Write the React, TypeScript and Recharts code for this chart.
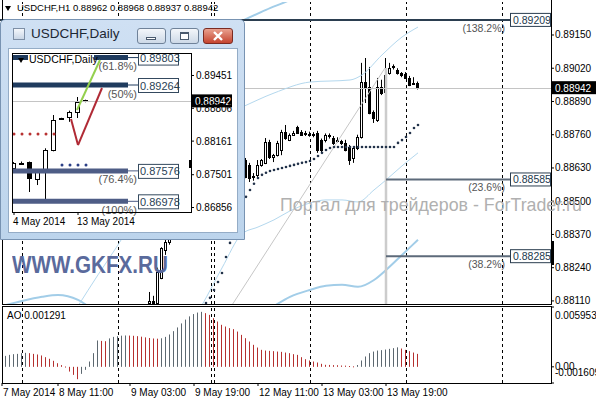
import React from 'react'
import { ComposedChart, Bar, Line, XAxis, YAxis, ReferenceLine } from 'recharts'

const FONT = '"Liberation Sans", Arial, Helvetica, sans-serif'

// ---------- H1 chart ----------
// x = H1 bar number, bar 0 sits on the left edge (7 May 2014)
const candleStart = 37
const opens = [
  0.881, 0.8811, 0.88102, 0.882, 0.88309, 0.8834,
  0.8842, 0.8847, 0.8851, 0.8854, 0.8858, 0.8857, 0.8862, 0.8865,
  0.8863, 0.8865, 0.8868, 0.8866, 0.8864, 0.8866, 0.8868, 0.8866, 0.8867, 0.88665,
  0.88661, 0.88642, 0.88595, 0.88603, 0.88642, 0.8865, 0.88732, 0.88673, 0.88681, 0.887,
  0.88771, 0.88739, 0.88759, 0.8879, 0.88771, 0.88765, 0.88762, 0.88763, 0.88767, 0.88739,
  0.88739, 0.88759, 0.88747, 0.8874, 0.88735, 0.88728, 0.88712, 0.88669, 0.88708, 0.88751,
  0.88966, 0.88947, 0.88849, 0.88818, 0.88947, 0.88927, 0.89001, 0.89025, 0.89015, 0.89,
  0.88998, 0.88982, 0.88958, 0.88962,
]
const highs = [
  0.88145, 0.8813, 0.8824, 0.8832, 0.8836, 0.8843,
  0.8848, 0.8853, 0.8856, 0.886, 0.8862, 0.8864, 0.8868, 0.8869,
  0.8867, 0.887, 0.8872, 0.8869, 0.8868, 0.887, 0.887, 0.8869, 0.887, 0.8868,
  0.88669, 0.8865, 0.8861, 0.88661, 0.88665, 0.88747, 0.8874, 0.88685, 0.88736, 0.88779,
  0.88798, 0.88765, 0.88775, 0.88795, 0.88778, 0.88775, 0.88772, 0.8877, 0.88775, 0.88745,
  0.88765, 0.88765, 0.88755, 0.8875, 0.8874, 0.8874, 0.8872, 0.88715, 0.8876, 0.89041,
  0.8906, 0.89025, 0.88855, 0.88982, 0.88975, 0.8906, 0.89041, 0.89035, 0.8902, 0.89005,
  0.89005, 0.8899, 0.88985, 0.88968,
]
const lows = [
  0.88075, 0.88095, 0.88095, 0.88195, 0.8829, 0.8833,
  0.884, 0.8845, 0.8848, 0.8852, 0.8855, 0.8856, 0.886, 0.8861,
  0.886, 0.8862, 0.8864, 0.8862, 0.8861, 0.8864, 0.8864, 0.8863, 0.8864, 0.8862,
  0.8859, 0.88575, 0.8858, 0.88595, 0.88635, 0.88645, 0.88665, 0.88653, 0.88675, 0.8868,
  0.8874, 0.88735, 0.88755, 0.88765, 0.88755, 0.88755, 0.88752, 0.8875, 0.88689, 0.8869,
  0.8873, 0.88745, 0.8872, 0.8873, 0.8872, 0.88695, 0.88642, 0.8865, 0.887, 0.88745,
  0.88884, 0.8884, 0.88806, 0.8881, 0.88915, 0.8892, 0.88995, 0.89015, 0.88995, 0.88985,
  0.88978, 0.8895, 0.88955, 0.88937,
]
const closes = [
  0.8811, 0.881, 0.88223, 0.88317, 0.8834, 0.8842,
  0.8847, 0.8851, 0.8854, 0.8858, 0.8857, 0.8862, 0.8865, 0.8863,
  0.8865, 0.8868, 0.8866, 0.8864, 0.8866, 0.8868, 0.8866, 0.8867, 0.88665, 0.88655,
  0.88595, 0.88591, 0.886, 0.88642, 0.88661, 0.88732, 0.88673, 0.88681, 0.88728, 0.88771,
  0.88747, 0.88759, 0.88767, 0.88767, 0.88759, 0.88762, 0.88763, 0.8876, 0.887, 0.887,
  0.88759, 0.88755, 0.88728, 0.88735, 0.88728, 0.887, 0.88661, 0.88708, 0.88751, 0.88966,
  0.88947, 0.88845, 0.88825, 0.88947, 0.88923, 0.88994, 0.89021, 0.89029, 0.89, 0.88994,
  0.88982, 0.88954, 0.88962, 0.88942,
]

// Parabolic SAR, from bar 51
const sarStart = 51
const sar = [
  0.88102, 0.88122, 0.88153, 0.88184, 0.88219, 0.88282, 0.88337, 0.8838, 0.8842, 0.8847,
  0.88517, 0.88544, 0.88568, 0.88591, 0.88603, 0.88611, 0.88618, 0.88622, 0.88626, 0.8863,
  0.88634, 0.88638, 0.88642, 0.88646, 0.8865, 0.88653, 0.88657, 0.88665, 0.88677, 0.88689,
  0.887, 0.88708, 0.88712, 0.88712, 0.88712, 0.88712, 0.88712, 0.88712, 0.88712, 0.88712,
  0.88712, 0.88712, 0.88712, 0.88712, 0.88712, 0.88712, 0.88712, 0.88712, 0.88728, 0.88739,
  0.88751, 0.88767, 0.88786, 0.88798,
]

// band lines, read at a few bars: [bar, price]
const bandThinUpper: [number, number][] = [
  [19, 0.8809], [24, 0.88212], [29, 0.88329], [40, 0.88622], [50, 0.88798], [60, 0.88868],
  [68, 0.88923], [77, 0.88966], [87, 0.88974], [90, 0.88994], [95, 0.89072], [100, 0.89142], [104, 0.89181],
]
const bandThinLower: [number, number][] = [
  [44, 0.8795], [50, 0.88094], [55, 0.88239], [60, 0.88372], [64, 0.88399], [68, 0.88427], [72, 0.88462],
  [77, 0.88493], [81, 0.88505], [85, 0.88505], [89, 0.88497], [93, 0.88544], [96, 0.88583],
  [100, 0.88638], [104, 0.88689],
]
const bandWideUpper: [number, number][] = [
  [40, 0.8898], [50, 0.8913], [60, 0.89205], [66, 0.89248], [72, 0.89287], [80, 0.8935],
]
const bandWideLower: [number, number][] = [
  [0, 0.8809], [5, 0.8811], [10, 0.88126], [14, 0.88133], [19, 0.88114], [24, 0.8806], [40, 0.8785],
  [56, 0.8796], [68, 0.8809], [72, 0.88126], [77, 0.88153], [81, 0.88169], [85, 0.88173],
  [89, 0.88165], [93, 0.88192], [96, 0.88231], [100, 0.8829], [104, 0.88349],
]

// Awesome Oscillator, one value per bar from bar 0
const ao = [
  0.00096, 0.00109, 0.00119, 0.00126, 0.00129, 0.00136, 0.00139, 0.00136, 0.00129, 0.00123,
  0.00113, 0.00096, 0.0008, 0.0006, 0.00036, 0.00017, 0.00003, -0.00047, -0.0008, -0.00123,
  -0.0007, -0.0003, 0.00053, 0.00136, 0.00262, 0.00258, 0.00255, 0.00283, 0.00298, 0.00305,
  0.0031, 0.00312, 0.00311, 0.00309, 0.00305, 0.003, 0.00293, 0.00287, 0.00282, 0.0028,
  0.00284, 0.00298, 0.00322, 0.00355, 0.00392, 0.00432, 0.0047, 0.00502, 0.00525, 0.0054,
  0.00547, 0.00534, 0.00517, 0.00484, 0.00451, 0.00418, 0.00401, 0.00385, 0.00375, 0.00351,
  0.00318, 0.00285, 0.00252, 0.00219, 0.00192, 0.00169, 0.00162, 0.00159, 0.00156, 0.00152,
  0.00149, 0.00142, 0.00136, 0.00126, 0.00119, 0.00096, 0.00076, 0.00063, 0.00053, 0.00043,
  0.0003, 0.0002, 0.00019, 0.00017, 0.00016, 0.00013, 0.00012, 0.00008, 0.00005, 0.00018,
  0.00063, 0.00103, 0.00136, 0.00152, 0.00162, 0.00166, 0.00172, 0.00179, 0.00186, 0.00194,
  0.00182, 0.00169, 0.00156, 0.00142, 0.00129,
]

// fibo levels drawn on H1: [percent text, price, from bar, to bar]
const fibH1: [string, number, number, number][] = [
  ['(138.2%)', 0.89209, -0.5, 127],
  ['(23.6%)', 0.88585, 96, 127],
  ['(38.2%)', 0.88285, 96, 127],
]
const trendLine: [number, number][] = [[50, 0.87912], [95.75, 0.89021]]
const fibStem: [number, number][] = [[96, 0.89021], [96, 0.879]]

const daySeparators = [5, 29, 52.25, 53, 77, 101, 125]
const timeTicks = [0, 14, 32, 48, 64, 80, 96]
const timeLabels = ['7 May 2014', '8 May 11:00', '9 May 03:00', '9 May 19:00', '12 May 11:00', '13 May 03:00', '13 May 19:00']
const priceTicks = [0.8915, 0.8902, 0.8889, 0.8876, 0.8863, 0.885, 0.8837, 0.8824, 0.8811]
const aoTicks = [0.005953, 0, -0.001609]
const lastPrice = 0.88942

// ---------- Daily inset ----------
const dailyOpen = [0.87632, 0.87731, 0.8775, 0.87416, 0.87593, 0.87986, 0.886, 0.88635, 0.88733, 0.88965]
const dailyHigh = [0.8775, 0.8776, 0.8776, 0.876, 0.8802, 0.88674, 0.8862, 0.8876, 0.89028, 0.88975]
const dailyLow = [0.876, 0.877, 0.87161, 0.87298, 0.87003, 0.8796, 0.8859, 0.8854, 0.88615, 0.88925]
const dailyClose = [0.87731, 0.87735, 0.87436, 0.87593, 0.87986, 0.88576, 0.8861, 0.88733, 0.8893, 0.88942]
const dailySarRed = [0.88301, 0.88301, 0.88301, 0.88301, 0.88301, 0.88301, null, null, null, null]
const dailySarBlue = [null, null, null, null, null, null, 0.87691, 0.87691, 0.87691, 0.87691]
const dailyFibs: [string, number, string][] = [
  ['(61.8%)', 0.89803, '#1f3b5e'],
  ['(50%)', 0.89264, '#1f3b5e'],
  ['(76.4%)', 0.87576, '#4e5d86'],
  ['(100%)', 0.86978, '#4e5d86'],
]
const zigzag: [number, number][] = [[7.125, 0.88596], [8, 0.88084], [11, 0.89205]]
const greenLine: [number, number][] = [[7.875, 0.88773], [10.75, 0.89755]]
const dailyTicks = [0, 8]
const dailyTickLabels = ['4 May 2014', '13 May 2014']
const dailyPriceTicks = [0.89451, 0.88806, 0.88161, 0.87501, 0.86856]

const AO_UP = '#5d6870'
const AO_DOWN = '#b5302f'

const pointAt = (pts: [number, number][], i: number) => {
  const hit = pts.find((p) => p[0] === i)
  return hit ? hit[1] : null
}

// AO is split into rising / falling bars, coloured like the terminal does
const h1Rows = ao.map((v, i) => {
  const k = i - candleStart
  const has = k >= 0 && k < opens.length
  const s = i - sarStart
  const down = i > 0 && v < ao[i - 1]
  return {
    i,
    range: has ? [lows[k], highs[k]] : null,
    o: has ? opens[k] : null,
    h: has ? highs[k] : null,
    l: has ? lows[k] : null,
    c: has ? closes[k] : null,
    sar: s >= 0 && s < sar.length ? sar[s] : null,
    thinUp: pointAt(bandThinUpper, i),
    thinLow: pointAt(bandThinLower, i),
    wideUp: pointAt(bandWideUpper, i),
    wideLow: pointAt(bandWideLower, i),
    aoUp: down ? null : v,
    aoDown: down ? v : null,
  }
})

const dailyRows = dailyOpen.map((o, k) => ({
  k,
  range: [dailyLow[k], dailyHigh[k]],
  o,
  h: dailyHigh[k],
  l: dailyLow[k],
  c: dailyClose[k],
  sarRed: dailySarRed[k],
  sarBlue: dailySarBlue[k],
}))

const makeCandle = (half: number) => (props: any) => {
  const { x, y, width, height, payload } = props
  if (!payload || payload.h == null || !height) return <g />
  const top = height < 0 ? y + height : y
  const hgt = Math.abs(height)
  const { o, h, l, c } = payload
  const py = (p: number) => top + ((h - p) / (h - l)) * hgt
  const cx = Math.round(x + width / 2) - 0.5
  const yo = py(o)
  const yc = py(c)
  const bTop = Math.round(Math.min(yo, yc)) + 0.5
  const bBot = Math.max(Math.round(Math.max(yo, yc)) + 0.5, bTop + 1)
  return (
    <g>
      <line x1={cx} x2={cx} y1={top} y2={top + hgt} stroke="#000" strokeWidth={1} />
      <rect x={cx - half} y={bTop} width={half * 2} height={bBot - bTop} fill={c >= o ? '#fff' : '#000'} stroke="#000" strokeWidth={1} />
    </g>
  )
}
const h1Candle = makeCandle(1)
const dailyCandle = makeCandle(2)

// crisp 1px histogram stick
const makeAoBar = (color: string) => (props: any) => {
  const { x, y, width, height } = props
  if (height == null || isNaN(height) || !width) return <g />
  const top = height < 0 ? y + height : y
  const cx = Math.round(x + width / 2)
  return <rect x={cx - 1} y={top} width={1} height={Math.max(Math.abs(height), 1)} fill={color} stroke="none" />
}
const aoUpBar = makeAoBar(AO_UP)
const aoDownBar = makeAoBar(AO_DOWN)

const PriceTick = (props: any) => {
  const { x, y, payload } = props
  return (
    <g>
      <line x1={x} x2={x + 3} y1={y} y2={y} stroke="#000" />
      <text x={x + 4} y={y + 3.5} fontSize={10} fontFamily={FONT} fill="#000">{payload.value.toFixed(5)}</text>
    </g>
  )
}

const AoTick = (props: any) => {
  const { x, y, payload } = props
  const v = payload.value
  const dy = v > 0 ? 11.5 : v < 0 ? -7.5 : 3.5
  return (
    <g>
      <line x1={x} x2={x + 3} y1={y} y2={y} stroke="#000" />
      <text x={x + 4} y={y + dy} fontSize={10} fontFamily={FONT} fill="#000">{v === 0 ? '0.00' : v.toFixed(6)}</text>
    </g>
  )
}

const TimeTick = (props: any) => {
  const { x, y, payload } = props
  const idx = timeTicks.indexOf(payload.value)
  return (
    <g>
      <line x1={x} x2={x} y1={y} y2={y + 3} stroke="#000" />
      <text x={x + 1} y={y + 13} fontSize={10} fontFamily={FONT} fill="#000">{timeLabels[idx]}</text>
    </g>
  )
}

const DailyTick = (props: any) => {
  const { x, y, payload } = props
  const idx = dailyTicks.indexOf(payload.value)
  return (
    <g>
      <line x1={x} x2={x} y1={y} y2={y + 3} stroke="#000" />
      <text x={x - 1} y={y + 13} fontSize={10} fontFamily={FONT} fill="#000">{dailyTickLabels[idx]}</text>
    </g>
  )
}

const DailyPriceTick = (props: any) => {
  const { x, y, payload } = props
  return (
    <g>
      <line x1={x} x2={x + 3} y1={y} y2={y} stroke="#000" />
      <text x={x + 5} y={y + 3.5} fontSize={10} fontFamily={FONT} fill="#000">{payload.value.toFixed(5)}</text>
    </g>
  )
}

const PriceTag = (props: any) => {
  const { viewBox, text, w } = props
  if (!viewBox) return null
  const x = viewBox.x + viewBox.width + 1
  const y = viewBox.y
  return (
    <g>
      <rect x={x} y={y - 7} width={w} height={13} fill="#000" />
      <text x={x + 3} y={y + 3.5} fontSize={10} fontFamily={FONT} fill="#fff">{text}</text>
    </g>
  )
}

const FibTagH1 = (props: any) => {
  const { viewBox, pct, value } = props
  if (!viewBox) return null
  const cx = viewBox.x + viewBox.width
  const cy = viewBox.y
  return (
    <g>
      <text x={cx - 5} y={cy + 12} textAnchor="end" fontSize={10.5} fontFamily={FONT} fill="#555">{pct}</text>
      <rect x={cx + 0.5} y={cy - 6.5} width={40} height={13} fill="#fff" stroke="#2b3e50" />
      <text x={cx + 3} y={cy + 4} fontSize={10.5} fontFamily={FONT} fill="#22384c">{value.toFixed(5)}</text>
    </g>
  )
}

const FibTagDaily = (props: any) => {
  const { viewBox, pct, value, color } = props
  if (!viewBox) return null
  const cx = viewBox.x + viewBox.width
  const cy = viewBox.y
  return (
    <g>
      <text x={cx + 9} y={cy + 12.5} textAnchor="end" fontSize={11} fontFamily={FONT} fill="#555">{pct}</text>
      <line x1={cx} x2={cx + 10} y1={cy} y2={cy} stroke={color} />
      <rect x={cx + 10.5} y={cy - 6.5} width={40} height={14} fill="#fff" stroke="#34495e" />
      <text x={cx + 12} y={cy + 4.5} fontSize={11} fontFamily={FONT} fill="#2a3f55">{value.toFixed(5)}</text>
    </g>
  )
}

const seg = (pts: [number, number][]) => pts.map((p) => ({ x: p[0], y: p[1] }))

const abs = (l: number, t: number, extra: React.CSSProperties = {}): React.CSSProperties => ({
  position: 'absolute', left: l, top: t, ...extra,
})

export default function App() {
  return (
    <div style={{ position: 'absolute', left: 0, top: 0, width: 596, height: 400, overflow: 'hidden', background: '#fff', fontFamily: FONT }}>
      {/* H1 price panel */}
      <div style={abs(0, 0)}>
        <ComposedChart width={596} height={306} data={h1Rows} margin={{ top: 2, right: 0, bottom: 2, left: 2 }}>
          <XAxis hide type="number" dataKey="i" domain={[0, 137.25]} allowDataOverflow />
          <YAxis orientation="right" width={45} type="number" domain={[0.88098, 0.89279]} allowDataOverflow
            ticks={priceTicks} interval={0} tick={<PriceTick />} tickLine={false} axisLine={false} tickSize={0} tickMargin={0} />
          {daySeparators.map((d) => (
            <ReferenceLine key={'d' + d} x={d} stroke="#000" strokeDasharray="3 3" shapeRendering="crispEdges" />
          ))}
          <ReferenceLine y={lastPrice} stroke="#c4c4c4" shapeRendering="crispEdges" label={<PriceTag text="0.88942" w={44} />} />
          <Line dataKey="wideLow" type="monotone" connectNulls stroke="#a2cde8" strokeWidth={2} dot={false} activeDot={false} isAnimationActive={false} />
          <Line dataKey="wideUp" type="monotone" connectNulls stroke="#a2cde8" strokeWidth={2} dot={false} activeDot={false} isAnimationActive={false} />
          <Line dataKey="thinUp" type="monotone" connectNulls stroke="#b4d8ee" strokeWidth={1} dot={false} activeDot={false} isAnimationActive={false} />
          <Line dataKey="thinLow" type="monotone" connectNulls stroke="#b4d8ee" strokeWidth={1} dot={false} activeDot={false} isAnimationActive={false} />
          <ReferenceLine segment={seg(trendLine)} stroke="#c6c6c6" strokeWidth={1} ifOverflow="hidden" />
          <ReferenceLine segment={seg(fibStem)} stroke="#cccccc" strokeWidth={2.5} ifOverflow="hidden" />
          {fibH1.map((f, n) => (
            <ReferenceLine key={f[0]} segment={[{ x: f[2], y: f[1] }, { x: f[3], y: f[1] }]}
              stroke={n === 0 ? '#2b3e50' : '#5d6a7a'} strokeWidth={2} ifOverflow="visible"
              label={<FibTagH1 pct={f[0]} value={f[1]} />} />
          ))}
          <Line dataKey="sar" stroke="none" dot={{ r: 1.3, fill: '#22324a', stroke: 'none' }} activeDot={false} isAnimationActive={false} />
          <Bar dataKey="range" barSize={3} shape={h1Candle} isAnimationActive={false} />
        </ComposedChart>
      </div>

      {/* AO panel */}
      <div style={abs(0, 306)}>
        <ComposedChart width={596} height={94} data={h1Rows} margin={{ top: 1, right: 0, bottom: 0, left: 2 }} barGap={-1}>
          <XAxis type="number" dataKey="i" domain={[0, 137.25]} allowDataOverflow ticks={timeTicks} interval={0}
            height={17} tick={<TimeTick />} tickLine={false} axisLine={false} tickSize={0} tickMargin={0} />
          <YAxis orientation="right" width={45} type="number" domain={[-0.001609, 0.005953]} allowDataOverflow
            ticks={aoTicks} interval={0} tick={<AoTick />} tickLine={false} axisLine={false} tickSize={0} tickMargin={0} />
          {daySeparators.map((d) => (
            <ReferenceLine key={'a' + d} x={d} stroke="#000" strokeDasharray="3 3" shapeRendering="crispEdges" />
          ))}
          <Bar dataKey="aoUp" barSize={1} fill={AO_UP} shape={aoUpBar} isAnimationActive={false} />
          <Bar dataKey="aoDown" barSize={1} fill={AO_DOWN} shape={aoDownBar} isAnimationActive={false} />
        </ComposedChart>
      </div>

      {/* panel frames */}
      <div style={abs(2, -1, { width: 550, height: 306, border: '1px solid #000', boxSizing: 'border-box', pointerEvents: 'none' })} />
      <div style={abs(2, 306, { width: 550, height: 78, border: '1px solid #000', boxSizing: 'border-box', pointerEvents: 'none' })} />
      <div style={abs(551, 241, { width: 3, height: 24, background: '#000' })} />

      {/* texts over the H1 chart */}
      <div style={abs(5, 6, { width: 0, height: 0, borderLeft: '3.5px solid transparent', borderRight: '3.5px solid transparent', borderTop: '5px solid #000' })} />
      <div style={abs(17, 2, { fontSize: 9.5, color: '#000', whiteSpace: 'nowrap' })}>USDCHF,H1  0.88962 0.88968 0.88937 0.88942</div>
      <div style={abs(7, 310, { fontSize: 10, color: '#000', whiteSpace: 'nowrap' })}>AO 0.001291</div>
      <div style={abs(280, 195, { fontSize: 17.8, color: '#b0b0b0', whiteSpace: 'nowrap' })}>Портал для трейдеров - ForTrader.ru</div>
      <div style={abs(12, 251, { fontSize: 24, fontWeight: 'bold', color: '#5a6a9c', whiteSpace: 'nowrap', transform: 'scaleX(0.86)', transformOrigin: 'left top' })}>WWW.GKFX.RU</div>

      {/* Daily inset window */}
      <div style={abs(0, 19, { width: 245, height: 221, background: 'linear-gradient(#cfe0f3, #bcd4ec)', border: '1px solid #7893b2', borderRadius: '5px 5px 0 0', boxSizing: 'border-box' })} />
      <div style={abs(13, 28, { width: 12, height: 12, border: '1px solid #7d8fa6', background: 'linear-gradient(#f4f7fb, #c9d6e6)', boxSizing: 'border-box' })} />
      <div style={abs(31, 26, { fontSize: 13.5, color: '#1c2733', whiteSpace: 'nowrap' })}>USDCHF,Daily</div>
      <div style={abs(137, 28, { width: 29, height: 16, border: '1px solid #6f8299', borderRadius: 3, background: 'linear-gradient(#f3f6fa, #cdd9e7)', boxSizing: 'border-box' })}>
        <div style={abs(8, 8, { width: 10, height: 3, background: '#fff', border: '1px solid #4a5a6e', boxSizing: 'border-box' })} />
      </div>
      <div style={abs(170, 28, { width: 29, height: 16, border: '1px solid #6f8299', borderRadius: 3, background: 'linear-gradient(#f3f6fa, #cdd9e7)', boxSizing: 'border-box' })}>
        <div style={abs(9, 3, { width: 9, height: 8, background: '#fff', border: '1px solid #4a5a6e', borderTopWidth: 2, boxSizing: 'border-box' })} />
      </div>
      <div style={abs(203, 28, { width: 30, height: 16, border: '1px solid #7b2b22', borderRadius: 3, background: 'linear-gradient(#e9a18f, #c5442f)', boxSizing: 'border-box' })}>
        <svg width={28} height={14} style={abs(0, 0)}>
          <path d="M10 3 L18 11 M18 3 L10 11" stroke="#fff" strokeWidth={2.4} />
        </svg>
      </div>
      <div style={abs(8, 48, { width: 230, height: 185, background: '#fff', border: '1px solid #94acc6', boxSizing: 'border-box' })} />

      <div style={abs(12, 53)}>
        <ComposedChart width={224} height={180} data={dailyRows} margin={{ top: 0, right: 0, bottom: 0, left: 0 }}>
          <XAxis type="number" dataKey="k" domain={[-0.25, 22.125]} allowDataOverflow ticks={dailyTicks} interval={0}
            height={21} tick={<DailyTick />} tickLine={false} axisLine={false} tickSize={0} tickMargin={0} />
          <YAxis orientation="right" width={45} type="number" domain={[0.86768, 0.89893]} allowDataOverflow
            ticks={dailyPriceTicks} interval={0} tick={<DailyPriceTick />} tickLine={false} axisLine={false} tickSize={0} tickMargin={0} />
          <ReferenceLine y={lastPrice} stroke="#c4c4c4" shapeRendering="crispEdges" label={<PriceTag text="0.88942" w={40} />} />
          {dailyFibs.map((f) => (
            <ReferenceLine key={f[0]} segment={[{ x: -0.25, y: f[1] }, { x: 14.25, y: f[1] }]} stroke={f[2]} strokeWidth={5}
              ifOverflow="visible" label={<FibTagDaily pct={f[0]} value={f[1]} color={f[2]} />} />
          ))}
          <ReferenceLine segment={seg(zigzag.slice(0, 2))} stroke="#b02a35" strokeWidth={2} ifOverflow="visible" />
          <ReferenceLine segment={seg(zigzag.slice(1, 3))} stroke="#b02a35" strokeWidth={2} ifOverflow="visible" />
          <ReferenceLine segment={seg(greenLine)} stroke="#94d04e" strokeWidth={2} ifOverflow="visible" />
          <Line dataKey="sarRed" stroke="none" dot={{ r: 1.5, fill: '#b83232', stroke: 'none' }} activeDot={false} isAnimationActive={false} />
          <Line dataKey="sarBlue" stroke="none" dot={{ r: 1.5, fill: '#2b3f86', stroke: 'none' }} activeDot={false} isAnimationActive={false} />
          <Bar dataKey="range" barSize={4} shape={dailyCandle} isAnimationActive={false} />
        </ComposedChart>
      </div>
      <div style={abs(12, 53, { width: 180, height: 160, border: '1px solid #000', boxSizing: 'border-box', pointerEvents: 'none' })} />
      <div style={abs(189, 160, { width: 3, height: 8, background: '#000' })} />
      <div style={abs(28, 54, { width: 66, height: 12, background: '#fff' })} />
      <div style={abs(18, 58, { width: 0, height: 0, borderLeft: '3.5px solid transparent', borderRight: '3.5px solid transparent', borderTop: '5px solid #000' })} />
      <div style={abs(29, 53, { fontSize: 10.5, color: '#000', whiteSpace: 'nowrap' })}>USDCHF,Daily</div>
    </div>
  )
}
